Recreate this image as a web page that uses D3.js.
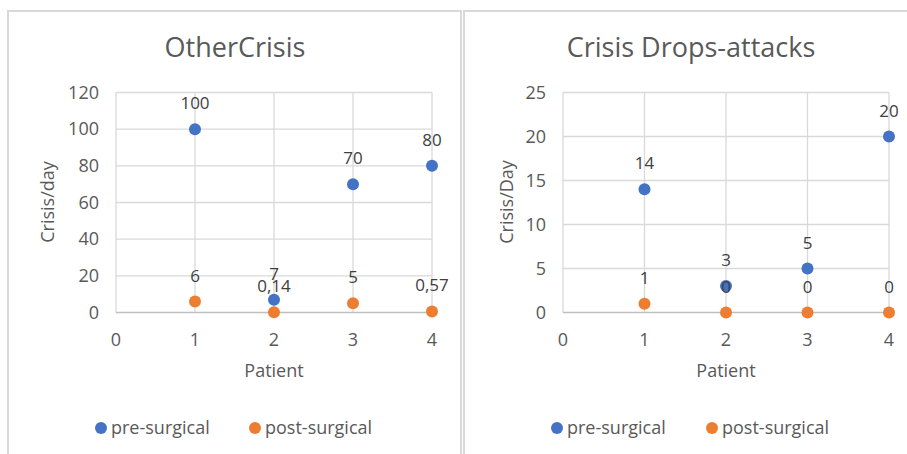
<!DOCTYPE html>
<html>
<head>
<meta charset="utf-8">
<script src="https://cdn.jsdelivr.net/npm/d3@7"></script>
<style>
  body { margin: 0; background: #fff; }
  svg text { font-family: "Open Sans", sans-serif; }
</style>
</head>
<body>
<svg id="chart" width="907" height="454"></svg>
<script>
// data
const patients = [1, 2, 3, 4];
const xTicks = [0, 1, 2, 3, 4];
const seriesNames = ["pre-surgical", "post-surgical"];
const seriesColors = ["#4472C4", "#ED7D31"];

const otherPre = [100, 7, 70, 80];
const otherPost = [6, 0.14, 5, 0.57];
const otherYTicks = [0, 20, 40, 60, 80, 100, 120];

const dropsPre = [14, 3, 5, 20];
const dropsPost = [1, 0, 0, 0];
const dropsYTicks = [0, 5, 10, 15, 20, 25];

const svg = d3.select('#chart');
const fmt = v => String(v).replace('.', ',');

function drawChart(box, title, yTitle, pre, post, yTicks) {
    const g = svg.append('g');

    // chart border
    g.append('rect')
        .attr('x', box.x).attr('y', box.y)
        .attr('width', box.w).attr('height', box.h)
        .attr('fill', '#fff')
        .attr('stroke', '#D9D9D9')
        .attr('stroke-width', 2);

    const x = d3.scaleLinear().domain([0, 4]).range([box.plotL, box.plotR]);
    const y = d3.scaleLinear().domain([0, d3.max(yTicks)]).range([312.5, 92.5]);

    // gridlines
    g.selectAll('.hgrid').data(yTicks.slice(1)).join('line')
        .attr('x1', x(0)).attr('x2', x(4))
        .attr('y1', d => y(d)).attr('y2', d => y(d))
        .attr('stroke', '#D9D9D9').attr('stroke-width', 1.3);
    g.selectAll('.vgrid').data(xTicks).join('line')
        .attr('x1', d => x(d)).attr('x2', d => x(d))
        .attr('y1', y(0)).attr('y2', y(d3.max(yTicks)))
        .attr('stroke', '#D9D9D9').attr('stroke-width', 1.3);
    g.append('line')
        .attr('x1', x(0)).attr('x2', x(4))
        .attr('y1', y(0)).attr('y2', y(0))
        .attr('stroke', '#BFBFBF').attr('stroke-width', 1.5);

    // tick labels
    g.selectAll('.ytick').data(yTicks).join('text')
        .attr('x', x(0) - 17).attr('y', d => y(d))
        .attr('dy', '0.35em')
        .attr('text-anchor', 'end')
        .attr('font-size', 18).attr('fill', '#595959')
        .text(d => d);
    g.selectAll('.xtick').data(xTicks).join('text')
        .attr('x', d => x(d)).attr('y', 346)
        .attr('text-anchor', 'middle')
        .attr('font-size', 18).attr('fill', '#595959')
        .text(d => d);

    // titles
    g.append('text')
        .attr('x', box.titleX).attr('y', 57)
        .attr('text-anchor', 'middle')
        .attr('font-size', 27).attr('fill', '#595959')
        .text(title);
    g.append('text')
        .attr('x', (x(0) + x(4)) / 2).attr('y', 377)
        .attr('text-anchor', 'middle')
        .attr('font-size', 18).attr('fill', '#595959')
        .text('Patient');
    g.append('text')
        .attr('transform', `translate(${box.yTitleX},202) rotate(-90)`)
        .attr('text-anchor', 'middle')
        .attr('dy', '0.35em')
        .attr('font-size', 18).attr('fill', '#595959')
        .text(yTitle);

    // markers
    const series = [pre, post];
    series.forEach((vals, i) => {
        g.selectAll(null).data(vals).join('circle')
            .attr('cx', (d, j) => x(patients[j]))
            .attr('cy', d => y(d))
            .attr('r', 6)
            .attr('fill', seriesColors[i]);
    });
    // data labels drawn on top
    series.forEach(vals => {
        g.selectAll(null).data(vals).join('text')
            .attr('x', (d, j) => x(patients[j]))
            .attr('y', d => y(d) - 20)
            .attr('text-anchor', 'middle')
            .attr('font-size', 17).attr('fill', '#404040')
            .text(d => fmt(d));
    });

    // legend
    seriesNames.forEach((name, i) => {
        const lx = box.legendX[i];
        g.append('circle')
            .attr('cx', lx).attr('cy', 428).attr('r', 6)
            .attr('fill', seriesColors[i]);
        g.append('text')
            .attr('x', lx + 10).attr('y', 428).attr('dy', '0.35em')
            .attr('font-size', 18).attr('fill', '#595959')
            .text(name);
    });
}

drawChart({x: 8, y: 11, w: 453, h: 460, plotL: 116, plotR: 432, titleX: 235, yTitleX: 48, legendX: [101, 255]},
    'OtherCrisis', 'Crisis/day', otherPre, otherPost, otherYTicks);
drawChart({x: 464, y: 11, w: 460, h: 460, plotL: 563, plotR: 889, titleX: 691, yTitleX: 507, legendX: [557, 712]},
    'Crisis Drops-attacks', 'Crisis/Day', dropsPre, dropsPost, dropsYTicks);
</script>
</body>
</html>
